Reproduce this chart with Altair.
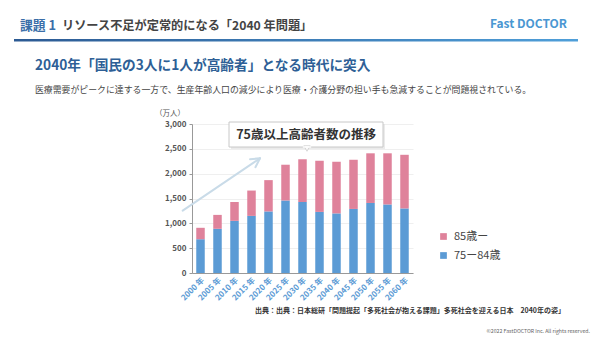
import math
import altair as alt
import pandas as pd

# ---- data ----
years = ["2000 年", "2005 年", "2010 年", "2015 年", "2020 年", "2025 年", "2030 年",
         "2035 年", "2040 年", "2045 年", "2050 年", "2055 年", "2060 年"]
age_75_84 = [680, 890, 1050, 1150, 1240, 1460, 1430, 1230, 1200, 1290, 1410, 1380, 1300]
age_85_up = [230, 280, 380, 510, 630, 720, 860, 1030, 1040, 990, 1000, 1030, 1080]
series = ["85歳ー", "75ー84歳"]
colors = ["#df829b", "#5b9bd5"]
y_ticks = [0, 500, 1000, 1500, 2000, 2500, 3000]

rows = []
for i, yr in enumerate(years):
    rows.append({"year": yr, "group": series[1], "value": age_75_84[i], "ord": 0})
    rows.append({"year": yr, "group": series[0], "value": age_85_up[i], "ord": 1})
df = pd.DataFrame(rows)

FONT = "Noto Sans CJK JP"
OX, OY = 192, 124          # plot origin on the page
PW, PH = 221, 149           # plot size


def px(x):
    return x - OX


def py(y):
    return y - OY


one = alt.Data(values=[{}])

bars = alt.Chart(df).mark_bar().encode(
    x=alt.X("year:N", sort=years,
            scale=alt.Scale(paddingInner=0.5, paddingOuter=0.25),
            axis=alt.Axis(title=None, labelAngle=-45, labelColor="#5b9bd5",
                          labelFontSize=8, labelFont=FONT, labelFontWeight="bold",
                          domainColor="#999", tickSize=0, labelPadding=3)),
    y=alt.Y("sum(value):Q", scale=alt.Scale(domain=[0, 3000]),
            axis=alt.Axis(title=None, values=y_ticks, format=",.0f", labelFontSize=8,
                          labelFont=FONT, labelColor="#555", labelFontWeight="bold",
                          domainColor="#999", tickColor="#999", tickSize=3,
                          gridColor="#efefef", labelPadding=3)),
    color=alt.Color("group:N", scale=alt.Scale(domain=series, range=colors),
                    legend=alt.Legend(title=None, orient="none", legendX=px(438),
                                      legendY=py(231), symbolType="square",
                                      symbolSize=45, labelFontSize=11, labelFont=FONT,
                                      labelColor="#444", rowPadding=7, labelOffset=5,
                                      padding=0)),
    order=alt.Order("ord:Q", sort="ascending"),
)


def text(t, x, y, size, color, weight="normal", align="left", baseline="middle"):
    return alt.Chart(one).mark_text(
        text=t, font=FONT, fontSize=size, color=color, fontWeight=weight,
        align=align, baseline=baseline,
    ).encode(x=alt.value(px(x)), y=alt.value(py(y)))


def rule(x1, y1, x2, y2, color, width):
    return alt.Chart(one).mark_rule(color=color, strokeWidth=width, strokeCap="round").encode(
        x=alt.value(px(x1)), y=alt.value(py(y1)), x2=alt.value(px(x2)), y2=alt.value(py(y2)))


def rect(x1, y1, x2, y2, **kw):
    return alt.Chart(one).mark_rect(**kw).encode(
        x=alt.value(px(x1)), y=alt.value(py(y1)), x2=alt.value(px(x2)), y2=alt.value(py(y2)))


layers = []

# header
layers.append(text("課題 1", 20, 26, 12.8, "#3a6ea8", "bold"))
layers.append(text("リソース不足が定常的になる「2040 年問題」", 62, 26, 12.2, "#444", "bold"))
layers.append(text("Fast DOCTOR", 567, 24, 12, "#4a97d2", "bold", align="right"))
layers.append(rect(14, 39, 578, 41.5, color=alt.Gradient(
    gradient="linear", x1=0, x2=1, y1=0, y2=0,
    stops=[alt.GradientStop(offset=0, color="#2c5a93"),
           alt.GradientStop(offset=1, color="#4f9fd9")])))

# sub heading
layers.append(text("2040年「国民の3人に1人が高齢者」となる時代に突入", 35, 66, 13.7, "#2e5f96", "bold"))
layers.append(text("医療需要がピークに達する一方で、生産年齢人口の減少により医療・介護分野の担い手も急減することが問題視されている。",
                   35, 90, 8.9, "#444"))

# unit label
layers.append(text("（万人）", 185, 114, 7.5, "#555", align="right"))

# trend arrow
ax1, ay1, ax2, ay2 = 182.7, 210.7, 260, 158.3
layers.append(rule(ax1, ay1, ax2, ay2, "#c9dbe8", 2))
ang = math.atan2(ay1 - ay2, ax1 - ax2)
for d in (0.5, -0.5):
    layers.append(rule(ax2, ay2, ax2 + 10 * math.cos(ang + d), ay2 + 10 * math.sin(ang + d),
                       "#c9dbe8", 2))

# callout box
layers.append(rect(231, 124, 385, 149, color="#dddddd", opacity=0.6))
layers.append(rect(229, 122, 383, 147, color="white", stroke="#c8c8c8", strokeWidth=1))
layers.append(alt.Chart(one).mark_point(shape="triangle-down", filled=True, fill="white",
                                        stroke="#c8c8c8", strokeWidth=1, size=40).encode(
    x=alt.value(px(307)), y=alt.value(py(148.5))))
layers.append(rule(303.5, 147, 310.5, 147, "white", 1.6))
layers.append(text("75歳以上高齢者数の推移", 306, 134.5, 12.5, "#333", "bold", align="center"))

# source / copyright
layers.append(text("出典：出典：日本総研「問題提起「多死社会が抱える課題」多死社会を迎える日本　2040年の姿」",
                   565, 311, 7.0, "#333", "bold", align="right"))
layers.append(text("©2022 FastDOCTOR Inc. All rights reserved.", 590, 331, 5.2, "#666",
                   align="right"))

chart = alt.layer(bars, *layers).properties(
    width=PW, height=PH,
    autosize=alt.AutoSizeParams(type="none"),
    padding={"left": OX, "top": OY, "right": 600 - OX - PW, "bottom": 337 - OY - PH},
    background="white",
).configure_view(stroke=None)

chart.save("out.html", embed_options={"renderer": "svg", "actions": False})
